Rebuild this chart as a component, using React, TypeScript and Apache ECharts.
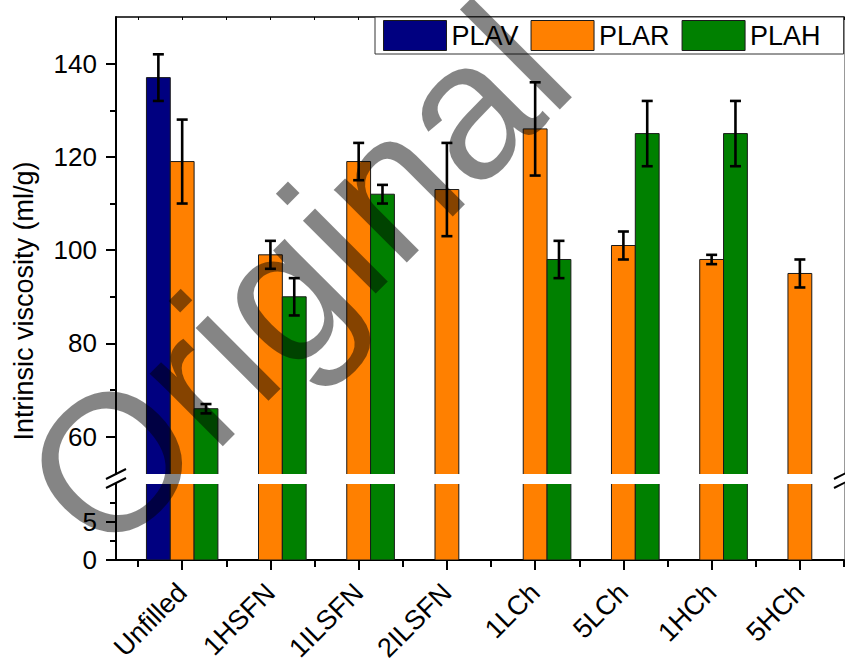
import React, { useEffect, useRef } from 'react';
import * as echarts from 'echarts';

const categories = ['Unfilled', '1HSFN', '1ILSFN', '2ILSFN', '1LCh', '5LCh', '1HCh', '5HCh'];
const plav: (number | null)[] = [137, null, null, null, null, null, null, null];
const plavErr: (number | null)[] = [5, null, null, null, null, null, null, null];
const plar: (number | null)[] = [119, 99, 119, 113, 126, 101, 98, 95];
const plarErr: (number | null)[] = [9, 3, 4, 10, 10, 3, 1, 3];
const plah: (number | null)[] = [66, 90, 112, null, 98, 125, 125, null];
const plahErr: (number | null)[] = [1, 4, 2, null, 4, 7, 7, null];
const upperTicks = [60, 80, 100, 120, 140];
const upperMinor = [70, 90, 110, 130];
const lowerTicks = [0, 5];
const lowerMinor = [2.5, 7.5];

const FONT = '"Liberation Sans", Arial, sans-serif';
const BAR_W = 0.27;
const X_MIN = 0.25;
const X_MAX = 8.5;

const seriesDefs = [
  { name: 'PLAV', values: plav, errs: plavErr, color: '#000080', offset: -0.27 },
  { name: 'PLAR', values: plar, errs: plarErr, color: '#FF8000', offset: 0 },
  { name: 'PLAH', values: plah, errs: plahErr, color: '#008000', offset: 0.27 },
];

function toData(values: (number | null)[], errs: (number | null)[]) {
  const out: number[][] = [];
  values.forEach((v, i) => {
    if (v !== null) out.push([i + 1, v, errs[i] ?? 0]);
  });
  return out;
}

export default function App() {
  const ref = useRef<HTMLDivElement>(null);
  useEffect(() => {
    const chart = echarts.init(ref.current!, null, { renderer: 'svg' });

    const barRender = (offset: number, color: string) => (params: any, api: any) => {
      const c = api.value(0) + offset;
      const v = api.value(1);
      const a = api.coord([c - BAR_W / 2, v]);
      const b = api.coord([c + BAR_W / 2, 0]);
      return {
        type: 'rect',
        shape: { x: a[0], y: a[1], width: b[0] - a[0], height: b[1] - a[1] },
        style: { fill: color, stroke: '#1a1a1a', lineWidth: 1 },
      };
    };
    const errRender = (offset: number) => (params: any, api: any) => {
      const c = api.value(0) + offset;
      const v = api.value(1);
      const e = api.value(2);
      const t = api.coord([c, v + e]);
      const b = api.coord([c, v - e]);
      const hw = 5.5;
      const st = { stroke: '#000', lineWidth: 2.6 };
      return {
        type: 'group',
        children: [
          { type: 'line', shape: { x1: t[0], y1: t[1], x2: b[0], y2: b[1] }, style: st },
          { type: 'line', shape: { x1: t[0] - hw, y1: t[1], x2: t[0] + hw, y2: t[1] }, style: st },
          { type: 'line', shape: { x1: b[0] - hw, y1: b[1], x2: b[0] + hw, y2: b[1] }, style: st },
        ],
      };
    };

    const series: any[] = [];
    seriesDefs.forEach((d) => {
      const data = toData(d.values, d.errs);
      series.push({
        type: 'custom', name: d.name, xAxisIndex: 0, yAxisIndex: 0, clip: true,
        itemStyle: { color: d.color }, encode: { x: 0, y: 1 },
        renderItem: barRender(d.offset, d.color), data, z: 2,
      });
      series.push({
        type: 'custom', name: d.name, xAxisIndex: 1, yAxisIndex: 3, clip: true,
        itemStyle: { color: d.color }, encode: { x: 0, y: 1 },
        renderItem: barRender(d.offset, d.color), data, z: 2,
      });
      series.push({
        type: 'custom', name: d.name + ' error', xAxisIndex: 0, yAxisIndex: 0, clip: false,
        encode: { x: 0, y: 1 }, renderItem: errRender(d.offset), data, z: 3,
      });
    });

    const halfSteps: number[] = [];
    for (let k = 1; k <= 17; k++) halfSteps.push(k * 0.5);
    const intSteps = categories.map((_, i) => i + 1);
    const minorSteps = halfSteps.filter((v) => v % 1 !== 0);

    const yBase = (grid: number, min: number, max: number) => ({
      type: 'value', gridIndex: grid, min, max, splitLine: { show: false },
    });

    const option: any = {
      animation: false,
      backgroundColor: '#fff',
      textStyle: { fontFamily: FONT },
      grid: [
        { left: 116, top: 17, width: 728, height: 457 },
        { left: 116, top: 484, width: 728, height: 76 },
      ],
      legend: {
        data: seriesDefs.map((d) => ({
          name: d.name, icon: 'rect',
          itemStyle: { color: d.color, borderColor: '#1a1a1a', borderWidth: 1 },
        })),
        left: 375, top: 17,
        padding: [3, 23, 3, 8],
        itemWidth: 63, itemHeight: 30, itemGap: 12,
        borderColor: '#333', borderWidth: 1, backgroundColor: '#fff',
        textStyle: { fontSize: 27, color: '#000', fontFamily: FONT },
        z: 5,
      },
      xAxis: [
        {
          type: 'value', gridIndex: 0, position: 'top', min: X_MIN, max: X_MAX,
          axisLine: { show: true, onZero: false, lineStyle: { color: '#000', width: 1.5 } },
          axisTick: { show: true, inside: true, length: 3, customValues: halfSteps, lineStyle: { color: '#000', width: 1 } },
          axisLabel: { show: false }, splitLine: { show: false },
        },
        {
          type: 'value', gridIndex: 1, position: 'bottom', min: X_MIN, max: X_MAX,
          axisLine: { show: true, onZero: false, lineStyle: { color: '#000', width: 2 } },
          axisTick: { show: true, length: 10, customValues: intSteps, lineStyle: { color: '#000', width: 2 } },
          axisLabel: {
            show: true, customValues: intSteps, rotate: 45, margin: 28,
            fontSize: 27, color: '#000', fontFamily: FONT,
            formatter: (v: number) => categories[Math.round(v) - 1] ?? '',
          },
          splitLine: { show: false },
        },
        {
          type: 'value', gridIndex: 1, position: 'bottom', min: X_MIN, max: X_MAX,
          axisLine: { show: false, onZero: false },
          axisTick: { show: true, length: 7, customValues: minorSteps, lineStyle: { color: '#000', width: 2 } },
          axisLabel: { show: false }, splitLine: { show: false },
        },
      ],
      yAxis: [
        {
          ...yBase(0, 52, 150), position: 'left',
          axisLine: { show: true, lineStyle: { color: '#000', width: 2 } },
          axisTick: { show: true, length: 10, customValues: upperTicks, lineStyle: { color: '#000', width: 2 } },
          axisLabel: { show: true, customValues: upperTicks, fontSize: 26, color: '#000', margin: 19, fontFamily: FONT },
        },
        {
          ...yBase(0, 52, 150), position: 'left',
          axisLine: { show: false },
          axisTick: { show: true, length: 6, customValues: upperMinor, lineStyle: { color: '#000', width: 2 } },
          axisLabel: { show: false },
        },
        {
          ...yBase(0, 52, 150), position: 'right',
          axisLine: { show: true, lineStyle: { color: '#999', width: 1 } },
          axisTick: { show: false }, axisLabel: { show: false },
        },
        {
          ...yBase(1, 0, 10), position: 'left',
          axisLine: { show: true, lineStyle: { color: '#000', width: 2 } },
          axisTick: { show: true, length: 10, customValues: lowerTicks, lineStyle: { color: '#000', width: 2 } },
          axisLabel: { show: true, customValues: lowerTicks, fontSize: 26, color: '#000', margin: 19, fontFamily: FONT },
        },
        {
          ...yBase(1, 0, 10), position: 'left',
          axisLine: { show: false },
          axisTick: { show: true, length: 6, customValues: lowerMinor, lineStyle: { color: '#000', width: 2 } },
          axisLabel: { show: false },
        },
        {
          ...yBase(1, 0, 10), position: 'right',
          axisLine: { show: true, lineStyle: { color: '#999', width: 1 } },
          axisTick: { show: false }, axisLabel: { show: false },
        },
      ],
      graphic: [
        {
          type: 'text', x: 24, y: 301, rotation: Math.PI / 2,
          style: {
            text: 'Intrinsic viscosity (ml/g)', font: `27px ${FONT}`, fill: '#000',
            textAlign: 'center', textVerticalAlign: 'middle',
          },
        },
        { type: 'line', shape: { x1: 106, y1: 479, x2: 126, y2: 469 }, style: { stroke: '#000', lineWidth: 2 }, z: 10 },
        { type: 'line', shape: { x1: 106, y1: 488, x2: 126, y2: 478 }, style: { stroke: '#000', lineWidth: 2 }, z: 10 },
        { type: 'line', shape: { x1: 834, y1: 479, x2: 854, y2: 469 }, style: { stroke: '#000', lineWidth: 2 }, z: 10 },
        { type: 'line', shape: { x1: 834, y1: 488, x2: 854, y2: 478 }, style: { stroke: '#000', lineWidth: 2 }, z: 10 },
        {
          type: 'text', x: 58, y: 515, rotation: Math.PI / 4, z: 100,
          style: {
            text: 'Original', font: `195px ${FONT}`, fill: 'rgba(0,0,0,0.48)',
            textAlign: 'left', textVerticalAlign: 'middle',
          },
        },
      ],
      series,
    };
    chart.setOption(option);
    return () => chart.dispose();
  }, []);
  return (
    <div
      ref={ref}
      style={{ position: 'fixed', left: 0, top: 0, width: 845, height: 668, background: '#fff' }}
    />
  );
}
